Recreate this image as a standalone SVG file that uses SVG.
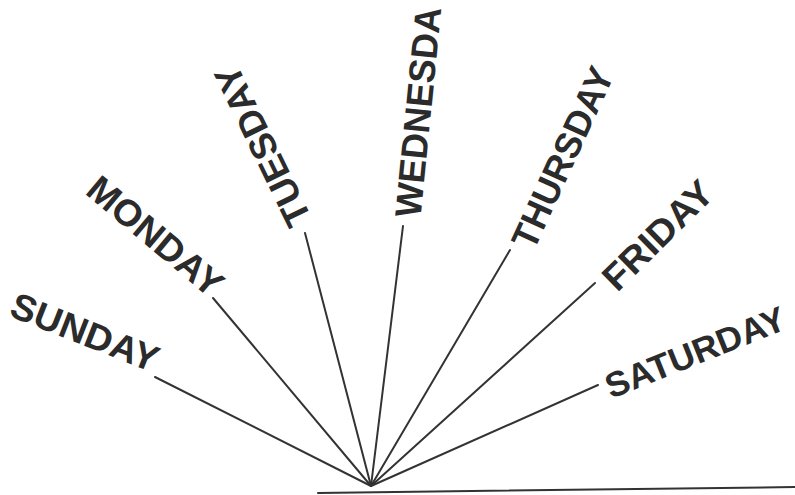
<svg xmlns="http://www.w3.org/2000/svg" width="795" height="495" viewBox="0 0 795 495">
<style>
.lbl{font-family:"Liberation Sans",Arial,sans-serif;font-weight:bold;font-size:37px;fill:#2b2b2b;text-anchor:middle}
.ray{stroke:#333;stroke-width:2;fill:none;stroke-linecap:round}
</style>
<rect width="795" height="495" fill="#fff"/>
<g id="connectors">
<line class="ray" x1="155" y1="377" x2="371" y2="486"/>
<line class="ray" x1="213" y1="298" x2="371" y2="486"/>
<line class="ray" x1="305" y1="233" x2="371" y2="486"/>
<line class="ray" x1="403" y1="226" x2="371" y2="486"/>
<line class="ray" x1="510" y1="250" x2="371" y2="486"/>
<line class="ray" x1="595" y1="283" x2="371" y2="486"/>
<line class="ray" x1="598" y1="385" x2="371" y2="486"/>
<line class="ray" x1="318" y1="493" x2="795" y2="487"/>
</g>
<g id="sunday"><text class="lbl" transform="translate(85 332) rotate(21.5)" y="13" textLength="156" lengthAdjust="spacingAndGlyphs">SUNDAY</text></g>
<g id="monday"><text class="lbl" transform="translate(155.5 236) rotate(40)" y="13" textLength="165" lengthAdjust="spacingAndGlyphs">MONDAY</text></g>
<g id="tuesday"><text class="lbl" transform="translate(262.5 146) rotate(-116)" y="13" textLength="174" lengthAdjust="spacingAndGlyphs">TUESDAY</text></g>
<g id="wednesday"><text class="lbl" transform="translate(418 112) rotate(-84.3)" y="13" textLength="211" lengthAdjust="spacingAndGlyphs">WEDNESDA</text></g>
<g id="thursday"><text class="lbl" transform="translate(562.5 157.5) rotate(-65.4)" y="13" textLength="195" lengthAdjust="spacingAndGlyphs">THURSDAY</text></g>
<g id="friday"><text class="lbl" transform="translate(657.5 235) rotate(-44.6)" y="13" textLength="139" lengthAdjust="spacingAndGlyphs">FRIDAY</text></g>
<g id="saturday"><text class="lbl" style="font-size:35px" transform="translate(695 352) rotate(-21.8)" y="12.5" textLength="191" lengthAdjust="spacingAndGlyphs">SATURDAY</text></g>
</svg>
